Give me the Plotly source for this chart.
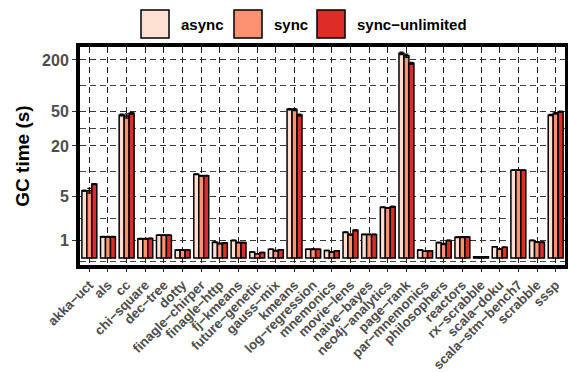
import numpy as np
import plotly.graph_objects as go

benchmarks = ["akka-uct", "als", "cc", "chi-square", "dec-tree", "dotty",
              "finagle-chirper", "finagle-http", "fj-kmeans", "future-genetic",
              "gauss-mix", "kmeans", "log-regression", "mnemonics", "movie-lens",
              "naive-bayes", "neo4j-analytics", "page-rank", "par-mnemonics",
              "philosophers", "reactors", "rx-scrabble", "scala-doku",
              "scala-stm-bench7", "scrabble", "sssp"]

series_names = ["async", "sync", "sync\u2212unlimited"]
series_colors = ["#FEE0D2", "#FC9272", "#DE2D26"]

gc_async = [5.9, 1.2, 45.9, 1.08, 1.3, 0.43, 9.3, 0.87, 0.98, 0.32, 0.47, 53.5,
            0.47, 0.41, 1.49, 1.35, 3.63, 239, 0.43, 0.85, 1.17, 0.07, 0.61,
            10.4, 0.98, 45.9]
gc_sync = [5.9, 1.2, 44.7, 1.08, 1.3, 0.43, 8.9, 0.80, 0.85, 0.23, 0.39, 53.0,
           0.47, 0.32, 1.33, 1.35, 3.55, 224, 0.36, 0.77, 1.18, 0.07, 0.48,
           10.4, 0.89, 48.0]
gc_unlimited = [7.1, 1.2, 48.1, 1.1, 1.3, 0.43, 8.9, 0.82, 0.85, 0.30, 0.45, 45.9,
                0.47, 0.39, 1.62, 1.35, 3.7, 183, 0.39, 0.98, 1.19, 0.07, 0.59,
                10.4, 0.87, 50.1]

# spread of the repeated runs (seconds)
err_async = [0.1, 0.03, 1.0, 0.02, 0.02, 0.01, 0.1, 0.02, 0.02, 0.01, 0.01, 1.0,
             0.01, 0.01, 0.03, 0.02, 0.05, 8, 0.01, 0.02, 0.02, 0.0, 0.01, 0.1,
             0.02, 0.8]
err_sync = [0.4, 0.03, 2.5, 0.02, 0.02, 0.01, 0.1, 0.02, 0.02, 0.01, 0.02, 1.5,
            0.02, 0.01, 0.05, 0.02, 0.05, 10, 0.01, 0.04, 0.03, 0.0, 0.02, 0.1,
            0.02, 1.0]
err_unlimited = [0.1, 0.03, 1.0, 0.02, 0.02, 0.01, 0.1, 0.02, 0.02, 0.01, 0.01, 1.0,
                 0.01, 0.01, 0.03, 0.02, 0.05, 5, 0.01, 0.02, 0.02, 0.0, 0.01, 0.1,
                 0.02, 0.8]

y_breaks = [1, 5, 20, 50, 200]


def pseudo_log(v):
    """Pseudo-log (sigma = 1, base 10) transform used for the y scale."""
    return np.arcsinh(np.asarray(v, dtype=float) / 2.0) / np.log(10)


W, H = 568, 372
L, R, T, B = 80, 3, 47, 107
plot_w, plot_h = W - L - R, H - T - B

fig = go.Figure()
for name, color, vals, errs in zip(series_names, series_colors,
                                   [gc_async, gc_sync, gc_unlimited],
                                   [err_async, err_sync, err_unlimited]):
    v = np.array(vals)
    e = np.array(errs)
    ty = pseudo_log(v)
    up = pseudo_log(v + e) - ty
    dn = ty - pseudo_log(np.maximum(v - e, 0))
    fig.add_trace(go.Bar(
        x=benchmarks, y=ty, name=name,
        marker=dict(color=color, line=dict(color="black", width=1.5)),
        error_y=dict(type="data", symmetric=False, array=up, arrayminus=dn,
                     color="black", thickness=1.2, width=2),
        showlegend=False,
    ))

major = pseudo_log(y_breaks)
minor = list((major[:-1] + major[1:]) / 2) + [-0.035]

grid_dash = "6px,4px"
fig.update_layout(
    width=W, height=H,
    margin=dict(l=L, r=R, t=T, b=B, autoexpand=False),
    paper_bgcolor="white", plot_bgcolor="white",
    barmode="group", bargap=0.2, bargroupgap=0.0,
    font=dict(family="Liberation Sans, Arial, sans-serif"),
    xaxis=dict(
        type="category", tickangle=-45, automargin=False,
        tickmode="array", tickvals=benchmarks,
        ticktext=[b.replace("-", "\u2212") for b in benchmarks],
        tickfont=dict(size=13.3, color="#4D4D4D", weight="bold"),
        showgrid=True, gridcolor="#222222", gridwidth=1, griddash=grid_dash,
        ticks="outside", ticklen=3, tickcolor="#333333", tickwidth=1,
        showline=True, linecolor="black", linewidth=4, mirror=True,
        zeroline=False,
    ),
    yaxis=dict(
        range=[-0.081, 2.452], automargin=False,
        tickmode="array", tickvals=list(major), ticktext=[str(b) for b in y_breaks],
        tickfont=dict(size=16, color="#4D4D4D", weight="bold"),
        showgrid=True, gridcolor="#333333", gridwidth=1, griddash=grid_dash,
        minor=dict(tickvals=minor, showgrid=True, gridcolor="#444444",
                   gridwidth=1, griddash=grid_dash, ticks=""),
        ticks="outside", ticklen=4, tickcolor="#333333", tickwidth=1,
        showline=True, linecolor="black", linewidth=4, mirror=True,
        zeroline=False,
        title=dict(text="GC time (s)", font=dict(size=19, color="black", weight="bold"),
                   standoff=8),
    ),
)


def px_x(p):
    return (p - L) / plot_w


def px_y(p):
    return (H - B - p) / plot_h


# legend drawn as large keys above the panel
key_left = [141, 234, 317]
text_left = [179, 272, 355]
key_size = 28
key_cy = 24
for name, color, kx, tx in zip(series_names, series_colors, key_left, text_left):
    fig.add_shape(type="rect", xref="paper", yref="paper",
                  x0=px_x(kx), x1=px_x(kx + key_size),
                  y0=px_y(key_cy + key_size / 2), y1=px_y(key_cy - key_size / 2),
                  fillcolor=color, line=dict(color="black", width=1.5))
    fig.add_annotation(xref="paper", yref="paper", x=px_x(tx), y=px_y(key_cy + 1),
                       text=name, showarrow=False, xanchor="left", yanchor="middle",
                       font=dict(size=15, color="black", weight="bold"))

fig.write_html("out.html")
